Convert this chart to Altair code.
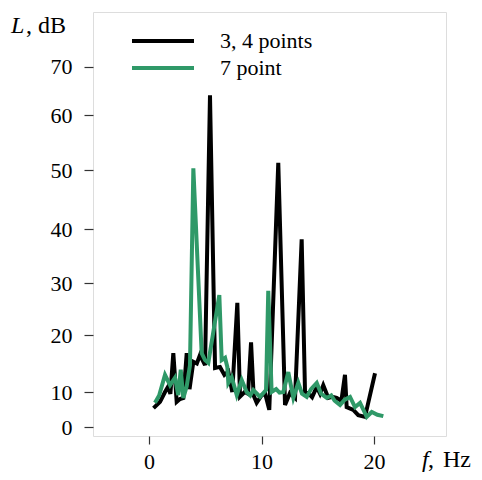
import altair as alt
import pandas as pd

series_names = ["3, 4 points", "7 point"]
series_colors = ["#000000", "#2f9968"]

f_34 = [0.4, 0.98, 1.42, 1.69, 1.9, 2.16, 2.46, 2.75, 3.05, 3.35, 3.6, 3.94, 4.25, 4.53, 4.98,
        5.42, 5.87, 6.31, 6.7, 7.05, 7.4, 7.85, 8.09, 8.5, 8.8, 9.07, 9.3, 9.57, 10.0, 10.31,
        10.69, 11.49, 12.09, 12.53, 12.98, 13.57, 13.87, 14.16, 14.5, 14.91, 15.2, 15.49, 15.94,
        16.3, 16.68, 17.1, 17.42, 17.57, 18.16, 18.6, 19.2, 20.09]
L_34 = [5.4, 7.2, 10.0, 10.9, 9.5, 16.8, 7.2, 8.0, 8.3, 16.8, 10.5, 15.3, 15.0, 16.5, 14.7,
        64.1, 14.2, 14.4, 13.0, 13.6, 10.0, 26.2, 8.7, 10.0, 9.5, 18.7, 9.0, 6.9, 9.0, 9.7,
        4.9, 51.3, 6.3, 9.7, 8.3, 38.1, 9.7, 9.7, 8.5, 10.9, 9.5, 11.2, 8.3,
        8.6, 8.3, 7.5, 13.0, 5.7, 4.9, 3.4, 2.9, 13.3]

f_7 = [0.53, 0.9, 1.42, 1.87, 2.31, 2.6, 2.82, 3.05, 3.35, 3.64, 3.94, 4.68, 4.98, 5.27,
       6.25, 6.46, 6.76, 6.96, 7.05, 7.35, 7.8, 8.24, 8.68, 9.0, 9.27, 9.6, 9.87, 10.4, 10.6,
       10.9, 11.3, 11.6, 11.94, 12.38, 12.83, 13.27, 13.6, 14.02, 14.4, 14.91, 15.3, 15.8,
       16.2, 16.5, 16.98, 17.4, 17.87, 18.31, 18.76, 19.05, 19.35, 19.8, 20.3, 20.83]
L_7 = [6.9, 9.0, 13.0, 11.2, 12.5, 9.1, 13.9, 8.3, 11.0, 14.7, 50.3, 16.8, 15.6, 15.1,
       27.7, 15.6, 16.0, 14.4, 11.6, 12.6, 9.1, 12.1, 10.0, 9.0, 10.35, 9.5, 8.6, 10.35, 28.5,
       10.0, 10.5, 9.8, 10.0, 13.5, 8.3, 11.6, 9.5, 8.6, 10.5, 11.6, 9.5, 8.3,
       9.0, 7.5, 6.3, 7.8, 8.6, 5.7, 6.9, 5.0, 2.9, 4.3, 3.5, 3.1]

x_ticks = [0, 10, 20]
y_ticks = [0, 10, 20, 30, 40, 50, 60, 70]
x_domain = [-4.98, 26.4]
# piecewise axis as drawn in the original figure
y_domain = [-2.6, 0, 10, 20, 30, 40, 50, 60, 70, 81.3]
y_range = [424, 415, 380, 323, 271, 217, 158, 103, 54.7, 0]

df = pd.concat([
    pd.DataFrame({"f": f_34, "L": L_34, "s": series_names[0], "o": 0}),
    pd.DataFrame({"f": f_7, "L": L_7, "s": series_names[1], "o": 1}),
])

FONT = "Liberation Serif"
FS = 22
TFS = 24

lines = alt.Chart(df).mark_line(strokeWidth=4, clip=True).encode(
    x=alt.X("f:Q", scale=alt.Scale(domain=x_domain, nice=False, zero=False),
            axis=alt.Axis(values=x_ticks, title=None, grid=False, domain=False,
                          tickSize=8, tickColor="#333", tickWidth=1.2,
                          labelFontSize=FS, labelFont=FONT, labelColor="#000",
                          labelPadding=7, format="d")),
    y=alt.Y("L:Q", scale=alt.Scale(domain=y_domain, range=y_range, nice=False, zero=False),
            axis=alt.Axis(values=y_ticks, title=None, grid=False, domain=False,
                          tickSize=9, tickColor="#333", tickWidth=1.2,
                          labelFontSize=FS, labelFont=FONT, labelColor="#000",
                          labelPadding=12, format="d")),
    color=alt.Color("s:N", scale=alt.Scale(domain=series_names, range=series_colors),
                    legend=alt.Legend(title=None, orient="none", legendX=58, legendY=17,
                                      symbolType="M-3.1,0H3.1", symbolSize=400,
                                      symbolStrokeWidth=4, labelOffset=45,
                                      labelFontSize=FS, labelFont=FONT, labelColor="#000",
                                      rowPadding=4)),
    detail="s:N",
    order="o:Q",
)

axis_titles = [
    {"t": "L", "x": -82, "y": 21, "i": "italic"},
    {"t": ",", "x": -67, "y": 21, "i": "normal"},
    {"t": "dB", "x": -55, "y": 21, "i": "normal"},
    {"t": "f", "x": 329, "y": 455, "i": "italic"},
    {"t": ",", "x": 335, "y": 455, "i": "normal"},
    {"t": "Hz", "x": 350, "y": 455, "i": "normal"},
]

texts = []
for a in axis_titles:
    texts.append(
        alt.Chart(pd.DataFrame({"t": [a["t"]]})).mark_text(
            align="left", baseline="alphabetic", fontSize=TFS, font=FONT,
            fontStyle=a["i"], color="#000"
        ).encode(x=alt.value(a["x"]), y=alt.value(a["y"]), text="t:N")
    )

chart = alt.layer(lines, *texts).properties(
    width=353, height=424,
    autosize=alt.AutoSizeParams(type="none"),
    padding={"left": 85, "top": 4, "right": 28, "bottom": 36},
).configure_view(stroke="#333", strokeWidth=1.5).configure(font=FONT)

chart.save("out.html", embed_options={"renderer": "svg", "actions": False})
